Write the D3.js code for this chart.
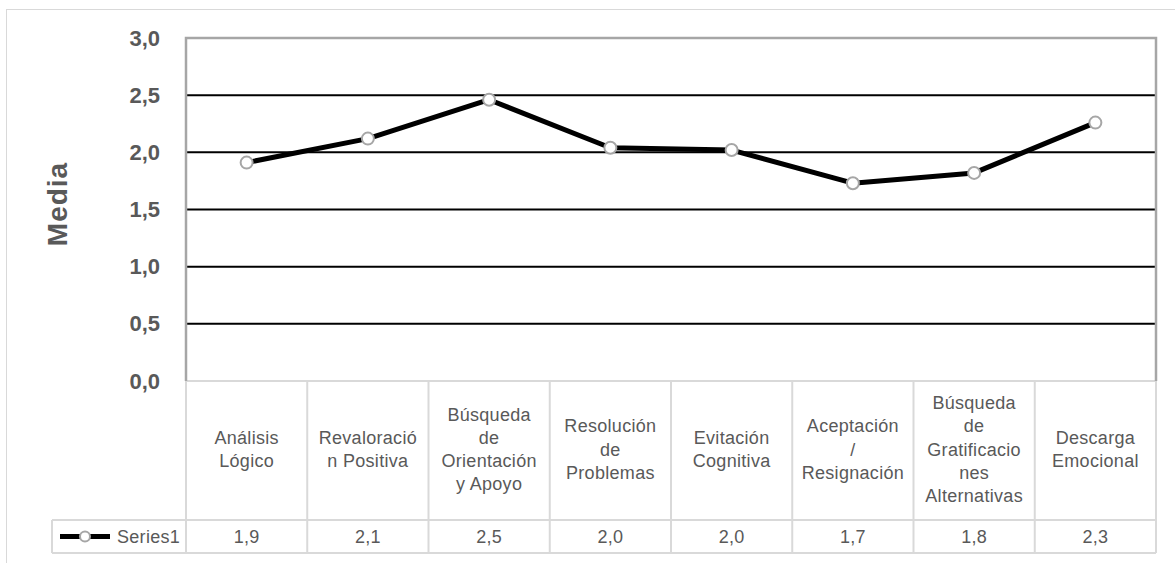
<!DOCTYPE html>
<html>
<head>
<meta charset="utf-8">
<script src="https://cdn.jsdelivr.net/npm/d3@7"></script>
<style>
  html, body { margin: 0; padding: 0; background: #ffffff; }
  svg { display: block; }
  text { font-family: "Liberation Sans", Arial, sans-serif; }
</style>
</head>
<body>
<svg id="chart" width="1175" height="563"></svg>
<script>
// Coping strategies and their mean scores
const categories = [
  "Análisis Lógico",
  "Revaloración Positiva",
  "Búsqueda de Orientación y Apoyo",
  "Resolución de Problemas",
  "Evitación Cognitiva",
  "Aceptación / Resignación",
  "Búsqueda de Gratificaciones Alternativas",
  "Descarga Emocional"
];
// Wrapped header lines, as they appear in the table cells
const categoryLines = [
  ["Análisis", "Lógico"],
  ["Revaloració", "n Positiva"],
  ["Búsqueda", "de", "Orientación", "y Apoyo"],
  ["Resolución", "de", "Problemas"],
  ["Evitación", "Cognitiva"],
  ["Aceptación", "/", "Resignación"],
  ["Búsqueda", "de", "Gratificacio", "nes", "Alternativas"],
  ["Descarga", "Emocional"]
];
const seriesName = "Series1";
const seriesValues = [1.91, 2.12, 2.46, 2.04, 2.02, 1.73, 1.82, 2.26];
const yTicks = [0, 0.5, 1.0, 1.5, 2.0, 2.5, 3.0];
const yTitle = "Media";

const locale = d3.formatLocale({ decimal: ",", thousands: ".", grouping: [3], currency: ["", "€"] });
const fmt = locale.format(".1f");

const svg = d3.select("#chart");
const plot = { left: 186, right: 1156, top: 38, bottom: 381 };
const table = { headBottom: 520, rowBottom: 553, legendLeft: 52 };
const textGray = "#595959";
const ruleGray = "#d9d9d9";
const borderGray = "#a6a6a6";
const cellFont = "18px";
const cellSpacing = "0.3px";

const x = d3.scaleBand().domain(d3.range(categories.length)).range([plot.left, plot.right]).paddingInner(0).paddingOuter(0);
const y = d3.scaleLinear().domain([0, 3]).range([plot.bottom, plot.top]);

// Outer chart frame
svg.append("rect")
  .attr("x", 6.5).attr("y", 9.5).attr("width", 1175).attr("height", 600)
  .attr("fill", "none").attr("stroke", ruleGray).attr("stroke-width", 1);

// Horizontal gridlines
svg.append("g").selectAll("line")
  .data(yTicks.filter(t => t > 0 && t < 3))
  .join("line")
  .attr("x1", plot.left).attr("x2", plot.right)
  .attr("y1", d => y(d)).attr("y2", d => y(d))
  .attr("stroke", "#000").attr("stroke-width", 2);

// Y axis labels
const yAxis = d3.axisLeft(y).tickValues(yTicks).tickFormat(fmt).tickSize(0).tickPadding(26);
const gy = svg.append("g").attr("transform", `translate(${plot.left},0)`).call(yAxis);
gy.select(".domain").remove();
gy.selectAll("text")
  .attr("fill", textGray)
  .style("font-size", "22px")
  .style("font-weight", "bold")
  .style("font-family", "'Liberation Sans', Arial, sans-serif");

// Y axis title
svg.append("text")
  .attr("transform", `translate(67,204) rotate(-90)`)
  .attr("text-anchor", "middle")
  .attr("fill", textGray)
  .style("font-size", "28px")
  .style("letter-spacing", "1px")
  .style("font-weight", "bold")
  .text(yTitle);

// Data table grid
const tg = svg.append("g").attr("stroke", ruleGray).attr("stroke-width", 2).attr("fill", "none");
// column separators in the header and value rows
tg.selectAll("line.col")
  .data(d3.range(categories.length + 1))
  .join("line")
  .attr("class", "col")
  .attr("x1", i => i < categories.length ? x(i) : x(categories.length - 1) + x.bandwidth())
  .attr("x2", i => i < categories.length ? x(i) : x(categories.length - 1) + x.bandwidth())
  .attr("y1", plot.bottom).attr("y2", table.rowBottom);
// horizontal rules
tg.append("line").attr("x1", plot.left).attr("x2", plot.right).attr("y1", plot.bottom).attr("y2", plot.bottom);
tg.append("line").attr("x1", table.legendLeft).attr("x2", plot.right).attr("y1", table.headBottom).attr("y2", table.headBottom);
tg.append("line").attr("x1", table.legendLeft).attr("x2", plot.right).attr("y1", table.rowBottom).attr("y2", table.rowBottom);
tg.append("line").attr("x1", table.legendLeft).attr("x2", table.legendLeft).attr("y1", table.headBottom).attr("y2", table.rowBottom);

// Plot border (left, top, right)
svg.append("path")
  .attr("d", `M${plot.left},${plot.bottom} V${plot.top} H${plot.right} V${plot.bottom}`)
  .attr("fill", "none").attr("stroke", borderGray).attr("stroke-width", 2.5);

// Category headers
const lineH = 23.3;
const headMid = (plot.bottom + table.headBottom) / 2 - 1;
const heads = svg.append("g").selectAll("text")
  .data(categoryLines)
  .join("text")
  .attr("text-anchor", "middle")
  .attr("fill", textGray)
  .style("font-size", cellFont)
  .style("letter-spacing", cellSpacing)
  .attr("x", (d, i) => x(i) + x.bandwidth() / 2)
  .attr("y", d => headMid - (d.length - 1) * lineH / 2 + 6);
heads.selectAll("tspan")
  .data(d => d)
  .join("tspan")
  .attr("x", function () { return d3.select(this.parentNode).attr("x"); })
  .attr("dy", (d, j) => j === 0 ? 0 : lineH)
  .text(d => d);

// Values row
const rowMid = (table.headBottom + table.rowBottom) / 2;
svg.append("g").selectAll("text")
  .data(seriesValues)
  .join("text")
  .attr("text-anchor", "middle")
  .attr("fill", textGray)
  .style("font-size", cellFont)
  .style("letter-spacing", cellSpacing)
  .attr("x", (d, i) => x(i) + x.bandwidth() / 2)
  .attr("y", rowMid + 6)
  .text(d => fmt(d));

// Legend key in the table
svg.append("line")
  .attr("x1", 60).attr("x2", 110).attr("y1", rowMid).attr("y2", rowMid)
  .attr("stroke", "#000").attr("stroke-width", 5);
svg.append("circle")
  .attr("cx", 85).attr("cy", rowMid).attr("r", 5)
  .attr("fill", "#fff").attr("stroke", borderGray).attr("stroke-width", 2);
svg.append("text")
  .attr("x", 117).attr("y", rowMid + 6)
  .attr("fill", textGray)
  .style("font-size", cellFont)
  .style("letter-spacing", cellSpacing)
  .text(seriesName);

// Series line and markers
const line = d3.line()
  .x((d, i) => x(i) + x.bandwidth() / 2)
  .y(d => y(d));
svg.append("path")
  .datum(seriesValues)
  .attr("d", line)
  .attr("fill", "none")
  .attr("stroke", "#000")
  .attr("stroke-width", 5)
  .attr("stroke-linejoin", "round");
svg.append("g").selectAll("circle")
  .data(seriesValues)
  .join("circle")
  .attr("cx", (d, i) => x(i) + x.bandwidth() / 2)
  .attr("cy", d => y(d))
  .attr("r", 6)
  .attr("fill", "#fff")
  .attr("stroke", borderGray)
  .attr("stroke-width", 2);
</script>
</body>
</html>
